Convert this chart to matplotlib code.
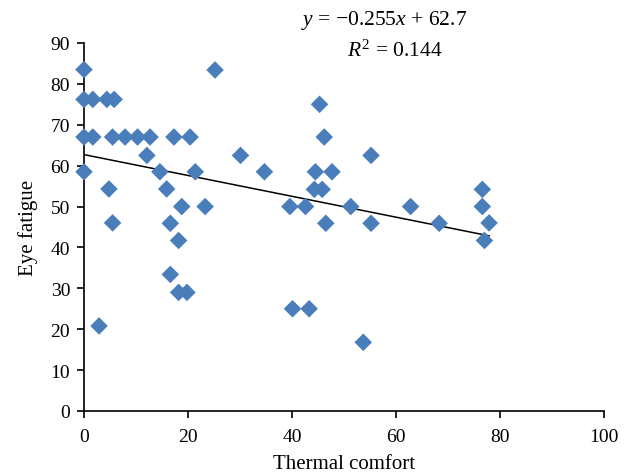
import matplotlib
matplotlib.use("Agg")
import matplotlib.pyplot as plt
import numpy as np

thermal_comfort = [0, 0, 0, 0, 1.7, 4.4, 5.8, 1.7, 5.5, 7.9, 10.3, 12.7, 17.3, 20.4,
                   25.2, 12.1, 30.1, 14.6, 21.4, 34.7, 4.8, 15.9, 18.8, 23.3, 5.5,
                   16.6, 18.2, 16.6, 18.2, 19.8, 2.9, 45.3, 46.2, 55.2, 44.5, 47.7,
                   44.3, 45.8, 39.6, 42.6, 51.3, 62.8, 76.6, 76.6, 77.9, 77.0, 46.5,
                   55.2, 68.3, 40.1, 43.3, 53.7]
eye_fatigue = [83.5, 76.2, 67.0, 58.5, 76.2, 76.2, 76.2, 67.0, 67.0, 67.0, 67.0, 67.0, 67.0, 67.0,
               83.4, 62.5, 62.5, 58.5, 58.5, 58.5, 54.3, 54.3, 50.0, 50.0, 46.0,
               45.9, 41.7, 33.4, 29.0, 29.0, 20.8, 75.0, 67.0, 62.5, 58.5, 58.5,
               54.2, 54.2, 50.0, 50.0, 50.0, 50.0, 54.2, 50.0, 46.0, 41.7, 45.9,
               45.9, 45.9, 25.0, 25.0, 16.8]
slope = -0.255
intercept = 62.7
r_squared = 0.144
x_ticks = [0, 20, 40, 60, 80, 100]
y_ticks = [0, 10, 20, 30, 40, 50, 60, 70, 80, 90]

plt.rcParams['font.family'] = ['Liberation Serif', 'DejaVu Serif']
plt.rcParams['mathtext.fontset'] = 'custom'
plt.rcParams['mathtext.rm'] = 'Liberation Serif'
plt.rcParams['mathtext.it'] = 'Liberation Serif:italic'

fig = plt.figure(figsize=(6.29, 4.77), dpi=100)
ax = fig.add_axes([0.1335, 0.1363, 0.8268, 0.7715])

ax.scatter(thermal_comfort, eye_fatigue, marker='D', s=80, color='#4A7EBB',
           edgecolors='none', zorder=3, clip_on=False)
xl = np.array([0, max(thermal_comfort)])
ax.plot(xl, slope * xl + intercept, color='black', lw=1.1, zorder=2)

ax.set_xlim(0, 100)
ax.set_ylim(0, 90)
ax.set_xticks(x_ticks)
ax.set_yticks(y_ticks)
for s in ['top', 'right']:
    ax.spines[s].set_visible(False)
for s in ['left', 'bottom']:
    ax.spines[s].set_linewidth(1.2)
ax.tick_params(direction='out', length=5, width=1.2, labelsize=14, pad=5)
ax.tick_params(axis='x', pad=7)
ax.set_xlabel('Thermal comfort', fontsize=15, labelpad=7)
ax.set_ylabel('Eye fatigue', fontsize=15, labelpad=9)

fig.text(0.611, 0.958, r'$y$ = −0.255$x$ + 62.7', ha='center', va='center', fontsize=15.5)
fig.text(0.628, 0.892, r'$R^2$ = 0.144', ha='center', va='center', fontsize=15.5)

fig.savefig('out.png', dpi=100)
